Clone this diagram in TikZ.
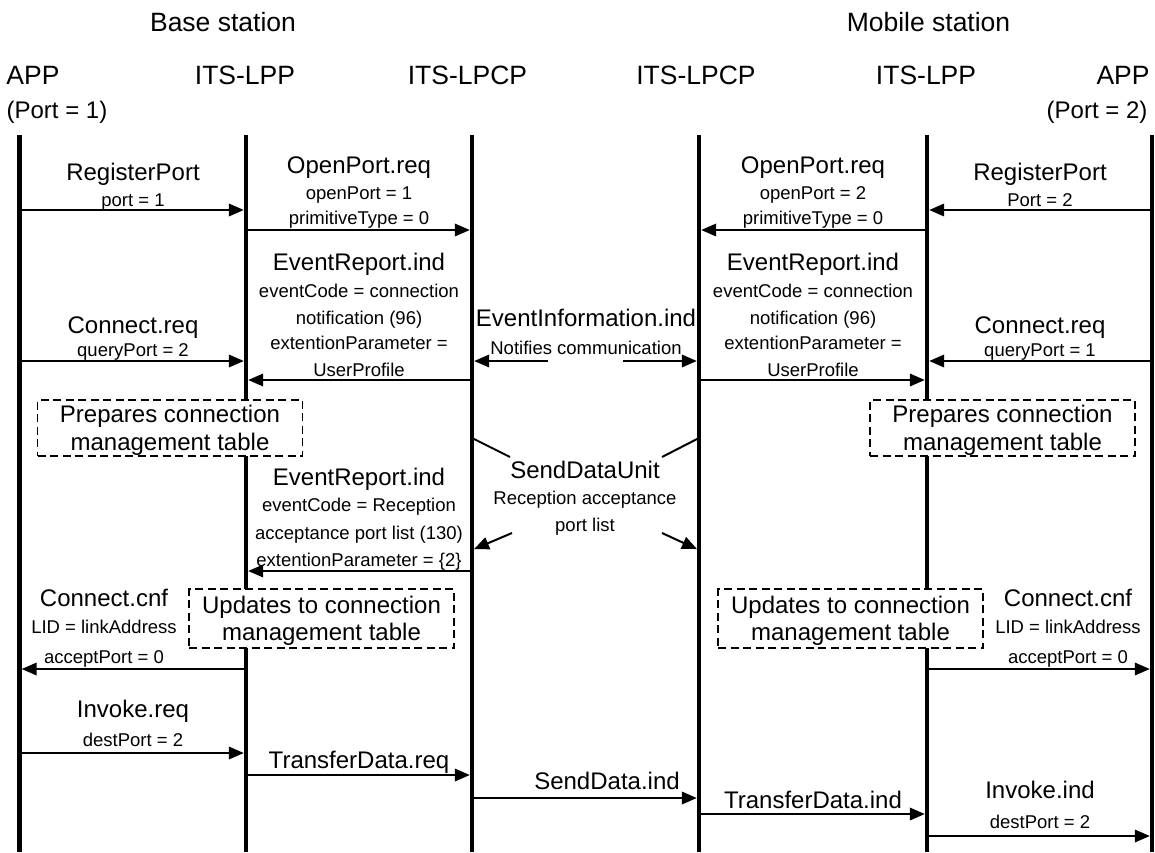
\documentclass[tikz,border=0pt]{standalone}
\usepackage{fontspec}
\setmainfont{Liberation Sans}
\usetikzlibrary{arrows.meta}
\begin{document}
\begin{tikzpicture}[x=1pt,y=-1pt,
  big/.style={font=\fontsize{24}{28}\selectfont, inner sep=0pt, anchor=base, yshift=-8.5pt},
  head/.style={font=\fontsize{26.5}{30}\selectfont, inner sep=0pt, anchor=base, yshift=-9.5pt},
  sm/.style={font=\fontsize{18.5}{22}\selectfont, inner sep=0pt, anchor=base, yshift=-6.3pt},
  life/.style={line width=4.5pt},
  msg/.style={line width=2pt, -{Triangle[length=15pt,width=12.5pt]}, shorten >=2.2pt},
  plainline/.style={line width=2pt},
  note/.style={draw, fill=white, dash pattern=on 8pt off 4.5pt, line width=1.5pt,
    inner sep=0pt, align=center, font=\fontsize{24}{27.5}\selectfont,
    minimum width=265pt, text depth=0pt},
]
\useasboundingbox (0,0) rectangle (1155,852);

% lifeline coordinates
\coordinate (A1) at (19.5,135);  \coordinate (A1b) at (19.5,852);
\coordinate (P1) at (246,135);   \coordinate (P1b) at (246,852);
\coordinate (C1) at (472,135);   \coordinate (C1b) at (472,852);
\coordinate (C2) at (699,135);   \coordinate (C2b) at (699,852);
\coordinate (P2) at (927,135);   \coordinate (P2b) at (927,852);
\coordinate (A2) at (1152,135);  \coordinate (A2b) at (1152,852);

\foreach \t/\b in {A1/A1b,P1/P1b,C1/C1b,C2/C2b,P2/P2b,A2/A2b}
  \draw[life] (\t) -- (\b);

% headers
\node[head] (bs) at (223,22) {Base station};
\node[head] (ms) at (928.5,22) {Mobile station};
\node[head] (hA1) at (33,75) {APP};
\node[head] (hP1) at (245,75) {ITS-LPP};
\node[head] (hC1) at (467.5,75) {ITS-LPCP};
\node[head] (hC2) at (696,75) {ITS-LPCP};
\node[head] (hP2) at (926,75) {ITS-LPP};
\node[head] (hA2) at (1123,75) {APP};
\node[big] (pt1) at (57,110) {(Port = 1)};
\node[big] (pt2) at (1097,110) {(Port = 2)};

% notes
\node[note, minimum height=56pt] (prepL) at (170,428) {Prepares connection\\management table};
\node[note, minimum height=56pt] (prepR) at (1002.5,428) {Prepares connection\\management table};
\node[note, minimum height=59pt] (updL) at (321.5,618.5) {Updates to connection\\management table};
\node[note, minimum height=59pt] (updR) at (850.5,618.5) {Updates to connection\\management table};

% RegisterPort (left)
\node[big] (rpL) at (133,172) {RegisterPort};
\node[sm] (rpL2) at (133,200) {port = 1};
\draw[msg] (A1 |- 0,210) -- (P1 |- 0,210);

% OpenPort.req (left)
\node[big] (opL) at (359,165) {OpenPort.req};
\node[sm] (opL2) at (359,193) {openPort = 1};
\node[sm] (opL3) at (359,218) {primitiveType = 0};
\draw[msg] (P1 |- 0,230) -- (C1 |- 0,230);

% RegisterPort (right)
\node[big] (rpR) at (1040,172) {RegisterPort};
\node[sm] (rpR2) at (1040,200) {Port = 2};
\draw[msg] (A2 |- 0,210) -- (P2 |- 0,210);

% OpenPort.req (right)
\node[big] (opR) at (813,165) {OpenPort.req};
\node[sm] (opR2) at (813,193) {openPort = 2};
\node[sm] (opR3) at (813,218) {primitiveType = 0};
\draw[msg] (P2 |- 0,230) -- (C2 |- 0,230);

% EventReport.ind (left, first)
\node[big] (erL) at (359,262) {EventReport.ind};
\node[sm] (erL2) at (359,291) {eventCode = connection};
\node[sm] (erL3) at (359,318) {notification (96)};
\node[sm] (erL4) at (359,343) {extentionParameter =};
\node[sm] (erL5) at (359,370) {UserProfile};
\draw[msg] (C1 |- 0,380) -- (P1 |- 0,380);

% EventReport.ind (right, first)
\node[big] (erR) at (813,262) {EventReport.ind};
\node[sm] (erR2) at (813,291) {eventCode = connection};
\node[sm] (erR3) at (813,318) {notification (96)};
\node[sm] (erR4) at (813,343) {extentionParameter =};
\node[sm] (erR5) at (813,370) {UserProfile};
\draw[msg] (C2 |- 0,380) -- (P2 |- 0,380);

% Connect.req
\node[big] (crL) at (133,325) {Connect.req};
\node[sm] (crL2) at (133,350) {queryPort = 2};
\draw[msg] (A1 |- 0,361) -- (P1 |- 0,361);
\node[big] (crR) at (1040,325) {Connect.req};
\node[sm] (crR2) at (1040,350) {queryPort = 1};
\draw[msg] (A2 |- 0,361) -- (P2 |- 0,361);

% EventInformation.ind
\node[big] (ei) at (586,318) {EventInformation.ind};
\node[sm] (ei2) at (586,348) {Notifies communication};
\coordinate (eiL) at (548,361);
\coordinate (eiR) at (623,361);
\draw[msg] (eiL) -- (C1 |- eiL);
\draw[msg] (eiR) -- (C2 |- eiR);

% SendDataUnit
\node[big] (sdu) at (585,470) {SendDataUnit};
\node[sm] (sdu2) at (585,498) {Reception acceptance};
\node[sm] (sdu3) at (585,525) {port list};
\coordinate (sduA) at (510,457);
\coordinate (sduB) at (662,457);
\coordinate (sduC) at (512,533);
\coordinate (sduD) at (662,533);
\draw[plainline] (C1 |- 0,438) -- (sduA);
\draw[plainline] (C2 |- 0,438) -- (sduB);
\draw[msg] (sduC) -- (C1 |- 0,550);
\draw[msg] (sduD) -- (C2 |- 0,550);

% EventReport.ind (left, second)
\node[big] (er2) at (359,477) {EventReport.ind};
\node[sm] (er22) at (359,505) {eventCode = Reception};
\node[sm] (er23) at (359,533) {acceptance port list (130)};
\node[sm] (er24) at (359,560) {extentionParameter = \{2\}};
\draw[msg] (C1 |- 0,571) -- (P1 |- 0,571);

% Connect.cnf
\node[big] (ccL) at (104,598) {Connect.cnf};
\node[sm] (ccL2) at (104,627) {LID = linkAddress};
\node[sm] (ccL3) at (104,657) {acceptPort = 0};
\draw[msg] (P1 |- 0,669) -- (A1 |- 0,669);
\node[big] (ccR) at (1068,598) {Connect.cnf};
\node[sm] (ccR2) at (1068,627) {LID = linkAddress};
\node[sm] (ccR3) at (1068,657) {acceptPort = 0};
\draw[msg] (P2 |- 0,669) -- (A2 |- 0,669);

% Invoke.req
\node[big] (ivq) at (133,709) {Invoke.req};
\node[sm] (ivq2) at (133,740) {destPort = 2};
\draw[msg] (A1 |- 0,753) -- (P1 |- 0,753);

% TransferData.req
\node[big] (tdq) at (359,760) {TransferData.req};
\draw[msg] (P1 |- 0,775) -- (C1 |- 0,775);

% SendData.ind
\node[big] (sdi) at (607,781) {SendData.ind};
\draw[msg] (C1 |- 0,798) -- (C2 |- 0,798);

% TransferData.ind
\node[big] (tdi) at (813,800) {TransferData.ind};
\draw[msg] (C2 |- 0,814) -- (P2 |- 0,814);

% Invoke.ind
\node[big] (ivi) at (1040,790) {Invoke.ind};
\node[sm] (ivi2) at (1040,822) {destPort = 2};
\draw[msg] (P2 |- 0,836) -- (A2 |- 0,836);
\end{tikzpicture}
\end{document}
